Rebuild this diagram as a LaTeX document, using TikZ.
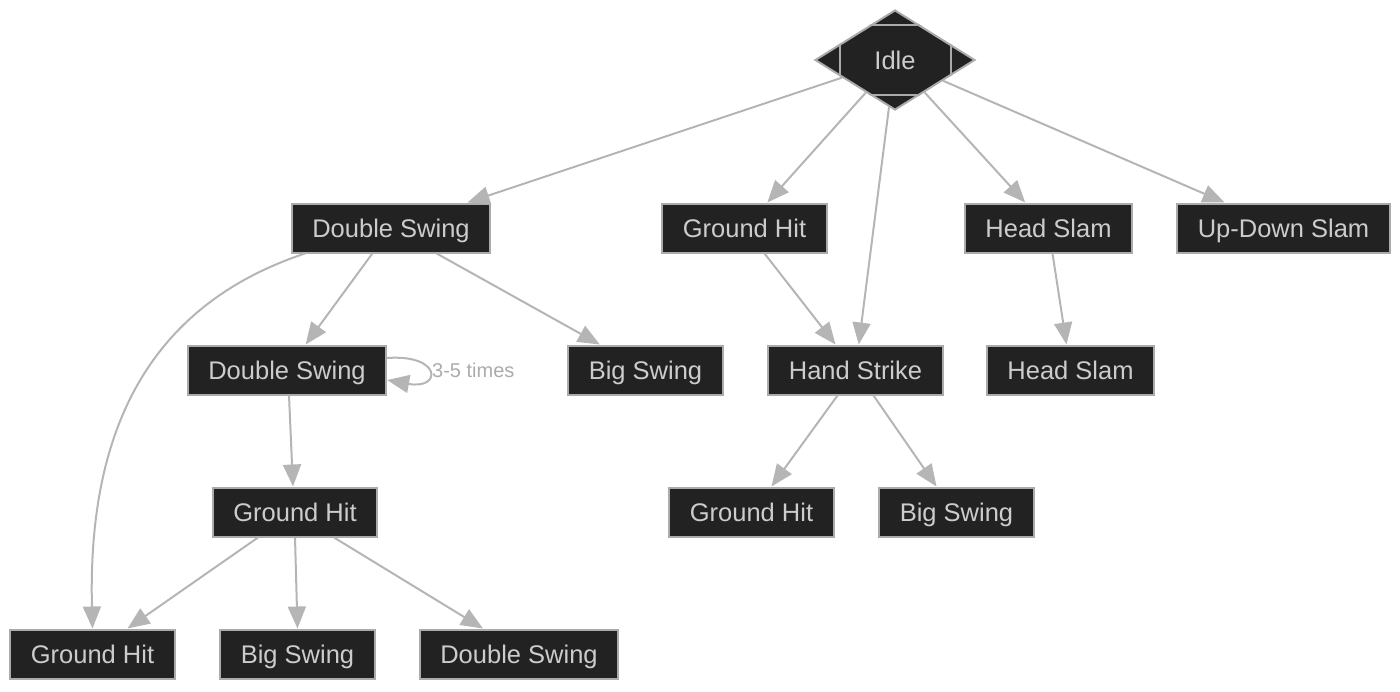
\documentclass[tikz,border=0pt]{standalone}
\usepackage{fontspec}
\setmainfont{Liberation Sans}
\usetikzlibrary{shapes.geometric,arrows.meta}
\definecolor{boxfill}{HTML}{222222}
\definecolor{boxline}{HTML}{ABABAB}
\definecolor{txt}{HTML}{CCCCCC}
\definecolor{edge}{HTML}{B5B5B5}
\definecolor{lbl}{HTML}{ABABAB}
\begin{document}
\begin{tikzpicture}[x=1pt,y=-1pt,
  stepbox/.style={draw=boxline,fill=boxfill,line width=2pt,text=txt,
    font=\fontsize{25.5}{30}\selectfont,minimum height=49pt,inner xsep=20.5pt,inner ysep=0pt,
    text height=22pt,text depth=2.5pt},
  conn/.style={draw=edge,line width=2pt,-{Triangle[length=22pt,width=18pt]}}]
\useasboundingbox (0,0) rectangle (1400,691);
% start node
\node[diamond,draw=boxline,fill=boxfill,line width=2pt,minimum width=160pt,minimum height=100pt,inner sep=0pt,text=txt,font=\fontsize{25.5}{30}\selectfont] (idle) at (895,60) {Idle};
\begin{scope}
\clip (idle.north) -- (idle.east) -- (idle.south) -- (idle.west) -- cycle;
\draw[boxline,line width=2pt] (840,25) rectangle (951,95);
\end{scope}
\node[stepbox] (ds1) at (391,228) {Double Swing};
\node[stepbox] (gh1) at (744.5,228) {Ground Hit};
\node[stepbox] (hs1) at (1048.5,228) {Head Slam};
\node[stepbox] (uds) at (1283.5,228) {Up-Down Slam};
\node[stepbox] (ds2) at (287,370) {Double Swing};
\node[stepbox] (bs1) at (645.5,370) {Big Swing};
\node[stepbox] (hst) at (855.5,370) {Hand Strike};
\node[stepbox] (hs2) at (1070.5,370) {Head Slam};
\node[stepbox] (gh2) at (295,512) {Ground Hit};
\node[stepbox] (gh3) at (751.5,512) {Ground Hit};
\node[stepbox] (bs3) at (956.5,512) {Big Swing};
\node[stepbox] (gh4) at (92.5,654) {Ground Hit};
\node[stepbox] (bs4) at (297.5,654) {Big Swing};
\node[stepbox] (ds4) at (519,654) {Double Swing};
% connectors
\path[conn] (idle) -- (ds1);
\path[conn] (idle) -- (gh1);
\path[conn] (idle) -- (hst);
\path[conn] (idle) -- (hs1);
\path[conn] (idle) -- (uds);
\path[conn] (ds1) -- (ds2);
\path[conn] (ds1) -- (bs1);
\path[conn] ([xshift=-86pt]ds1.south) .. controls (135,310) and (88,450) .. (gh4.north);
\path[conn] ([xshift=20pt]gh1.south) -- ([xshift=-20pt]hst.north);
\path[conn] ([xshift=4pt]hs1.south) -- ([xshift=-4pt]hs2.north);
\path[conn] ([yshift=12pt]ds2.east) .. controls (442,354) and (442,390) .. ([yshift=-10pt]ds2.east);
\node[text=lbl,font=\fontsize{20}{24}\selectfont,anchor=west,inner sep=0pt] (loop) at (432,370) {3-5 times};
\path[conn] ([xshift=2pt]ds2.south) -- ([xshift=-2pt]gh2.north);
\path[conn] ([xshift=-18pt]hst.south) -- ([xshift=20pt]gh3.north);
\path[conn] ([xshift=18pt]hst.south) -- ([xshift=-20pt]bs3.north);
\path[conn] ([xshift=-37pt]gh2.south) -- ([xshift=35pt]gh4.north);
\path[conn] (gh2.south) -- (bs4.north);
\path[conn] ([xshift=39pt]gh2.south) -- ([xshift=-36pt]ds4.north);
\end{tikzpicture}
\end{document}
